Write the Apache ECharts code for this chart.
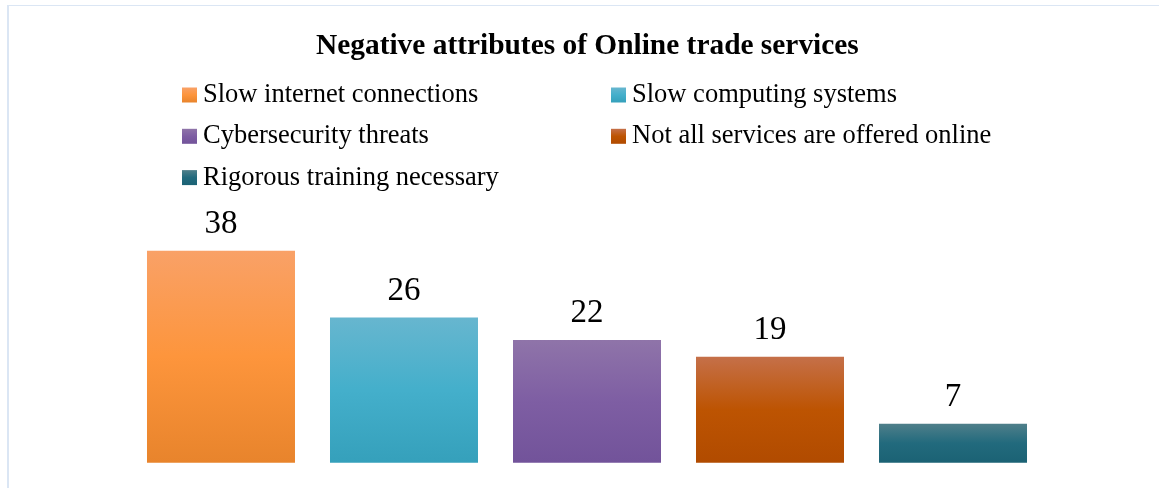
<!DOCTYPE html>
<html>
<head>
<meta charset="utf-8">
<script src="https://cdn.jsdelivr.net/npm/echarts@6/dist/echarts.min.js"></script>
<style>
html,body{margin:0;padding:0;background:#fff;}
#frame{position:absolute;left:7px;top:5px;width:1300px;height:700px;border-left:2px solid #dbe6f4;border-top:1px solid #dbe6f4;}
#chart{position:absolute;left:0;top:0;width:1159px;height:488px;}
</style>
</head>
<body>
<div id="frame"></div>
<div id="chart"></div>
<script>
const title = 'Negative attributes of Online trade services';
const seriesNames = ['Slow internet connections','Slow computing systems','Cybersecurity threats','Not all services are offered online','Rigorous training necessary'];
const values = [38, 26, 22, 19, 7];
const gradients = [
  ['#f9a167','#fd953c','#e8842c'],
  ['#67b6cf','#44afcb','#35a0bb'],
  ['#8f74a9','#7e5ea3','#72539a'],
  ['#c57049','#bd5402','#b14b00'],
  ['#4f7f8a','#226a7d','#1b6274']
];

const chart = echarts.init(document.getElementById('chart'), null, {renderer:'canvas'});
const font = '"Liberation Serif","Times New Roman",serif';

function grad(c){
  return new echarts.graphic.LinearGradient(0,0,0,1,[
    {offset:0,color:c[0]},{offset:0.5,color:c[1]},{offset:1,color:c[2]}
  ]);
}

const series = seriesNames.map((n,i)=>({
  name:n,
  type:'bar',
  data:[values[i]],
  barWidth:148,
  barGap:'23.65%',
  barCategoryGap:'0%',
  itemStyle:{color:grad(gradients[i])},
  label:{show:true,position:'top',distance:10,color:'#000',fontFamily:font,fontSize:33},
  emphasis:{disabled:true}
}));

const legendCommon = {
  orient:'vertical',
  icon:'rect',
  itemWidth:15,
  itemHeight:15,
  itemGap:11.3,
  textStyle:{fontFamily:font,fontSize:26.5,color:'#000',lineHeight:30,padding:[0,0,0,1]},
  selectedMode:false,
  padding:0
};

chart.setOption({
  animation:false,
  title:{text:title,left:311,top:26.5,textStyle:{fontFamily:font,fontSize:29.4,fontWeight:'bold',color:'#000'}},
  legend:[
    Object.assign({},legendCommon,{left:182,top:80,data:[seriesNames[0],seriesNames[2],seriesNames[4]]}),
    Object.assign({},legendCommon,{left:611,top:80,data:[seriesNames[1],seriesNames[3]]})
  ],
  grid:{left:146,right:131,top:239.5,bottom:25.3,containLabel:false},
  xAxis:{type:'category',data:[''],show:false},
  yAxis:{type:'value',min:0,max:40,show:false},
  series:series
});
</script>
</body>
</html>
